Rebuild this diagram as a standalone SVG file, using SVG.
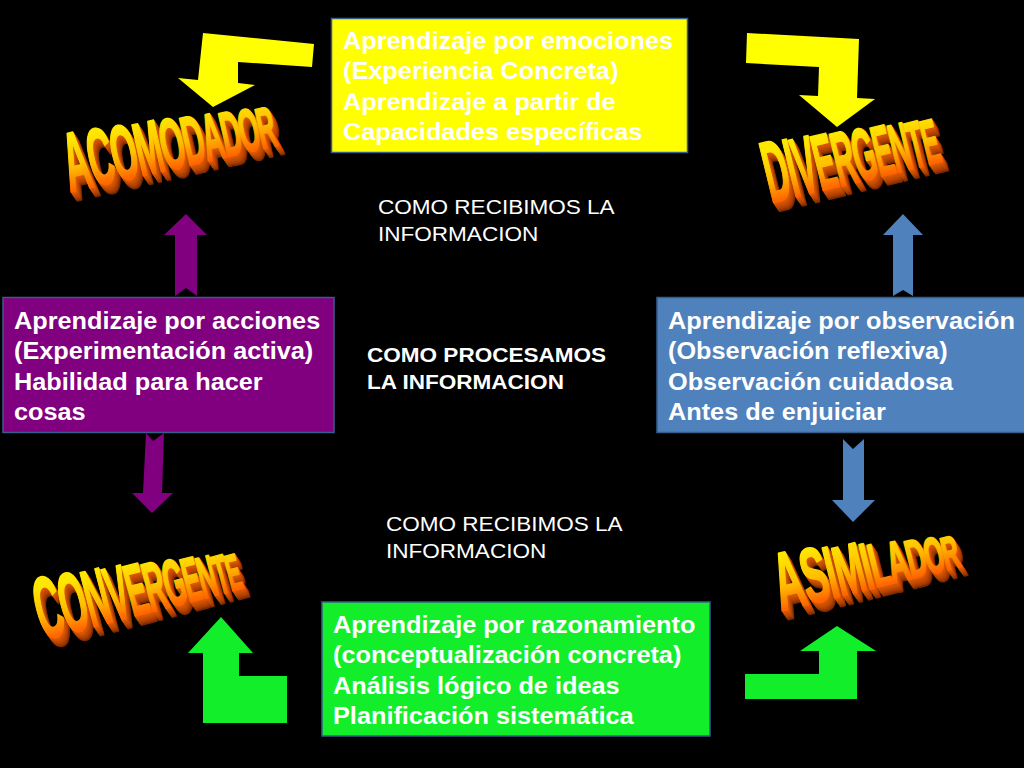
<svg xmlns="http://www.w3.org/2000/svg" xmlns:xlink="http://www.w3.org/1999/xlink" width="1024" height="768" viewBox="0 0 1024 768">
<style>
.box{stroke:#385d8a;stroke-width:1.5}
.bt{font-family:"Liberation Sans",Arial,sans-serif;font-weight:bold;font-size:23px;fill:#ffffff}
.pt{font-family:"Liberation Sans",Arial,sans-serif;font-size:20.5px;fill:#ffffff}
.pb{font-family:"Liberation Sans",Arial,sans-serif;font-weight:bold;font-size:20.5px;fill:#ffffff}
.wa{font-family:"Liberation Sans",Arial,sans-serif;font-weight:bold;stroke-width:2;stroke-linejoin:round}
</style>
<defs>
<linearGradient id="wag" gradientUnits="userSpaceOnUse" x1="0" y1="-48" x2="0" y2="0">
<stop offset="0" stop-color="#ffe800"/>
<stop offset="0.55" stop-color="#ffbe00"/>
<stop offset="1" stop-color="#ff6400"/>
</linearGradient>
<text id="t-aco" class="wa" letter-spacing="-3" transform="translate(70,192) rotate(-12.7) scale(0.473,1.1)"><tspan font-size="76">A</tspan><tspan font-size="73.3">C</tspan><tspan font-size="70.7">O</tspan><tspan font-size="68">M</tspan><tspan font-size="65.3">O</tspan><tspan font-size="62.7">D</tspan><tspan font-size="60">A</tspan><tspan font-size="57.3">D</tspan><tspan font-size="54.7">O</tspan><tspan font-size="52">R</tspan></text>
<text id="t-div" class="wa" letter-spacing="-3" transform="translate(771,203) rotate(-13.7) scale(0.42,1.08)"><tspan font-size="81">D</tspan><tspan font-size="78.4">I</tspan><tspan font-size="75.9">V</tspan><tspan font-size="73.3">E</tspan><tspan font-size="70.8">R</tspan><tspan font-size="68.2">G</tspan><tspan font-size="65.7">E</tspan><tspan font-size="63.1">N</tspan><tspan font-size="60.6">T</tspan><tspan font-size="58">E</tspan></text>
<text id="t-con" class="wa" letter-spacing="-3" transform="translate(43,640) rotate(-14.6) scale(0.453,1.1)"><tspan font-size="80">C</tspan><tspan font-size="76.6">O</tspan><tspan font-size="73.2">N</tspan><tspan font-size="69.8">V</tspan><tspan font-size="66.4">E</tspan><tspan font-size="63">R</tspan><tspan font-size="59.6">G</tspan><tspan font-size="56.2">E</tspan><tspan font-size="52.8">N</tspan><tspan font-size="49.4">T</tspan><tspan font-size="46">E</tspan></text>
<text id="t-asi" class="wa" letter-spacing="-2.5" transform="translate(781,611) rotate(-14) scale(0.56,1.12)"><tspan font-size="73">A</tspan><tspan font-size="69.4">S</tspan><tspan font-size="65.9">I</tspan><tspan font-size="62.3">M</tspan><tspan font-size="58.8">I</tspan><tspan font-size="55.2">L</tspan><tspan font-size="51.7">A</tspan><tspan font-size="48.1">D</tspan><tspan font-size="44.6">O</tspan><tspan font-size="41">R</tspan></text>
</defs>
<rect x="0" y="0" width="1024" height="768" fill="#000000"/>

<g id="connectors">
<polygon points="203,33 314,44 312,67 238,62 238,83 255,85 213,107 178,78 198,80" fill="#ffff00"/>
<polygon points="747,33 859,39 857,98 875,99 837,127 799,95 818,96 819,67 746,63" fill="#ffff00"/>
<polygon points="186,214 207,235 197,235 197,296 186,288 175,296 175,235 164,235" fill="#800080"/>
<polygon points="146,433 153,441 164,433 162,493 173,493 152,513 132,493 143,493" fill="#800080"/>
<polygon points="903,214 923,235 913,235 913,296 903,290 893,296 893,235 883,235" fill="#4f81bd"/>
<polygon points="843,439 853,449 864,439 864,500 875,500 853,522 832,500 843,500" fill="#4f81bd"/>
<polygon points="221,617 253,653 239,653 239,676 287,676 287,723 203,723 203,653 188,653" fill="#12ee2a"/>
<polygon points="837,626 876,651 857,651 857,699 745,699 745,674 819,674 819,651 800,651" fill="#12ee2a"/>
</g>

<g id="acomodador">
<use xlink:href="#t-aco" x="6" y="8.8" fill="#7a2a00" stroke="#7a2a00"/>
<use xlink:href="#t-aco" x="5.1" y="7.5" fill="#953500" stroke="#953500"/>
<use xlink:href="#t-aco" x="4.3" y="6.3" fill="#a83e00" stroke="#a83e00"/>
<use xlink:href="#t-aco" x="3.4" y="5" fill="#b84500" stroke="#b84500"/>
<use xlink:href="#t-aco" x="2.6" y="3.8" fill="#c44b00" stroke="#c44b00"/>
<use xlink:href="#t-aco" x="1.7" y="2.5" fill="#cf5200" stroke="#cf5200"/>
<use xlink:href="#t-aco" x="0.9" y="1.3" fill="#d85800" stroke="#d85800"/>
<use xlink:href="#t-aco" fill="url(#wag)" stroke="url(#wag)"/>
</g>
<g id="divergente">
<use xlink:href="#t-div" x="6" y="8.8" fill="#7a2a00" stroke="#7a2a00"/>
<use xlink:href="#t-div" x="5.1" y="7.5" fill="#953500" stroke="#953500"/>
<use xlink:href="#t-div" x="4.3" y="6.3" fill="#a83e00" stroke="#a83e00"/>
<use xlink:href="#t-div" x="3.4" y="5" fill="#b84500" stroke="#b84500"/>
<use xlink:href="#t-div" x="2.6" y="3.8" fill="#c44b00" stroke="#c44b00"/>
<use xlink:href="#t-div" x="1.7" y="2.5" fill="#cf5200" stroke="#cf5200"/>
<use xlink:href="#t-div" x="0.9" y="1.3" fill="#d85800" stroke="#d85800"/>
<use xlink:href="#t-div" fill="url(#wag)" stroke="url(#wag)"/>
</g>
<g id="convergente">
<use xlink:href="#t-con" x="6" y="8.8" fill="#7a2a00" stroke="#7a2a00"/>
<use xlink:href="#t-con" x="5.1" y="7.5" fill="#953500" stroke="#953500"/>
<use xlink:href="#t-con" x="4.3" y="6.3" fill="#a83e00" stroke="#a83e00"/>
<use xlink:href="#t-con" x="3.4" y="5" fill="#b84500" stroke="#b84500"/>
<use xlink:href="#t-con" x="2.6" y="3.8" fill="#c44b00" stroke="#c44b00"/>
<use xlink:href="#t-con" x="1.7" y="2.5" fill="#cf5200" stroke="#cf5200"/>
<use xlink:href="#t-con" x="0.9" y="1.3" fill="#d85800" stroke="#d85800"/>
<use xlink:href="#t-con" fill="url(#wag)" stroke="url(#wag)"/>
</g>
<g id="asimilador">
<use xlink:href="#t-asi" x="6" y="8.8" fill="#7a2a00" stroke="#7a2a00"/>
<use xlink:href="#t-asi" x="5.1" y="7.5" fill="#953500" stroke="#953500"/>
<use xlink:href="#t-asi" x="4.3" y="6.3" fill="#a83e00" stroke="#a83e00"/>
<use xlink:href="#t-asi" x="3.4" y="5" fill="#b84500" stroke="#b84500"/>
<use xlink:href="#t-asi" x="2.6" y="3.8" fill="#c44b00" stroke="#c44b00"/>
<use xlink:href="#t-asi" x="1.7" y="2.5" fill="#cf5200" stroke="#cf5200"/>
<use xlink:href="#t-asi" x="0.9" y="1.3" fill="#d85800" stroke="#d85800"/>
<use xlink:href="#t-asi" fill="url(#wag)" stroke="url(#wag)"/>
</g>

<g id="emociones">
<rect class="box" x="331.5" y="18.5" width="356" height="134" fill="#ffff00"/>
<g transform="translate(343,0) scale(1.1,1)">
<text class="bt" x="0" y="49">Aprendizaje por emociones</text>
<text class="bt" x="0" y="79.5">(Experiencia Concreta)</text>
<text class="bt" x="0" y="110">Aprendizaje a partir de</text>
<text class="bt" x="0" y="140.5">Capacidades específicas</text>
</g>
</g>

<g id="acciones">
<rect class="box" x="3" y="297.5" width="331" height="135" fill="#800080"/>
<g transform="translate(14,0) scale(1.1,1)">
<text class="bt" x="0" y="329">Aprendizaje por acciones</text>
<text class="bt" x="0" y="359.5">(Experimentación activa)</text>
<text class="bt" x="0" y="390">Habilidad para hacer</text>
<text class="bt" x="0" y="420.5">cosas</text>
</g>
</g>

<g id="observacion">
<rect class="box" x="657" y="297.5" width="370" height="135" fill="#4f81bd"/>
<g transform="translate(668,0) scale(1.1,1)">
<text class="bt" x="0" y="329">Aprendizaje por observación</text>
<text class="bt" x="0" y="359.5">(Observación reflexiva)</text>
<text class="bt" x="0" y="390">Observación cuidadosa</text>
<text class="bt" x="0" y="420.5">Antes de enjuiciar</text>
</g>
</g>

<g id="razonamiento">
<rect class="box" x="322" y="602" width="388" height="134" fill="#12ee2a"/>
<g transform="translate(333,0) scale(1.1,1)">
<text class="bt" x="0" y="633">Aprendizaje por razonamiento</text>
<text class="bt" x="0" y="663.5">(conceptualización concreta)</text>
<text class="bt" x="0" y="694">Análisis lógico de ideas</text>
<text class="bt" x="0" y="724.5">Planificación sistemática</text>
</g>
</g>

<g id="recibimos-top" transform="translate(378,0) scale(1.1,1)">
<text class="pt" x="0" y="214">COMO RECIBIMOS LA</text>
<text class="pt" x="0" y="241">INFORMACION</text>
</g>
<g id="procesamos" transform="translate(367,0) scale(1.1,1)">
<text class="pb" x="0" y="362">COMO PROCESAMOS</text>
<text class="pb" x="0" y="389">LA INFORMACION</text>
</g>
<g id="recibimos-bottom" transform="translate(386,0) scale(1.1,1)">
<text class="pt" x="0" y="531">COMO RECIBIMOS LA</text>
<text class="pt" x="0" y="558">INFORMACION</text>
</g>
</svg>
